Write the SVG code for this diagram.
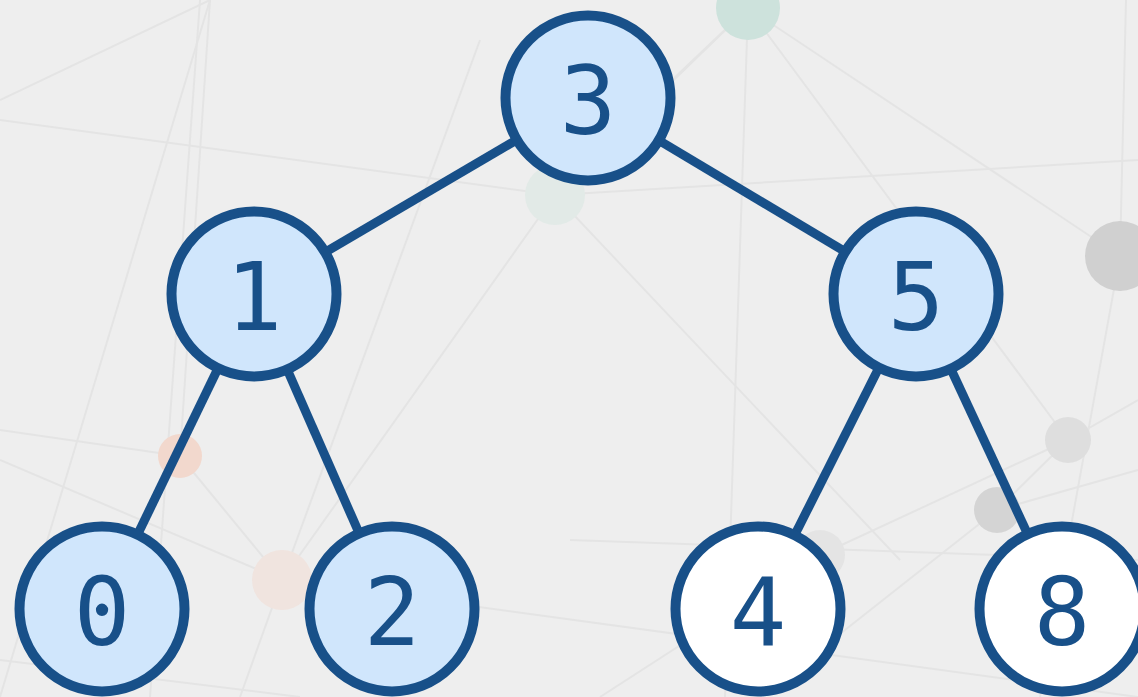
<svg xmlns="http://www.w3.org/2000/svg" width="1138" height="697" viewBox="0 0 1138 697">
<style>
.bg{stroke:#e4e4e4;stroke-width:2;fill:none}
.edge{stroke:#185089;stroke-width:9;stroke-linecap:butt}
.node circle{stroke:#185089;stroke-width:10}
.in circle{fill:#d0e6fc}
.out circle{fill:#ffffff}
.node text{font-family:"DejaVu Sans Mono","Liberation Mono",monospace;font-size:94px;fill:#185089;text-anchor:middle}
</style>
<rect width="1138" height="697" fill="#eeeeee"/>
<g id="background">
<g class="bg">
<line x1="748" y1="8" x2="1120" y2="256"/>
<line x1="748" y1="8" x2="555" y2="195"/>
<line x1="748" y1="8" x2="1068" y2="440"/>
<line x1="748" y1="8" x2="725" y2="697"/>
<line x1="748" y1="8" x2="630" y2="120"/>
<line x1="1120" y1="256" x2="1126" y2="0"/>
<line x1="1120" y1="256" x2="1040" y2="697"/>
<line x1="555" y1="195" x2="1138" y2="160"/>
<line x1="555" y1="195" x2="900" y2="560"/>
<line x1="555" y1="195" x2="282" y2="580"/>
<line x1="555" y1="195" x2="0" y2="120"/>
<line x1="210" y1="0" x2="0" y2="100"/>
<line x1="210" y1="0" x2="0" y2="697"/>
<line x1="210" y1="0" x2="180" y2="456"/>
<line x1="200" y1="0" x2="150" y2="697"/>
<line x1="180" y1="456" x2="0" y2="430"/>
<line x1="180" y1="456" x2="282" y2="580"/>
<line x1="0" y1="460" x2="282" y2="580"/>
<line x1="282" y1="580" x2="240" y2="697"/>
<line x1="282" y1="580" x2="480" y2="40"/>
<line x1="282" y1="580" x2="1138" y2="697"/>
<line x1="997" y1="510" x2="1068" y2="440"/>
<line x1="997" y1="510" x2="760" y2="697"/>
<line x1="997" y1="510" x2="1138" y2="470"/>
<line x1="1068" y1="440" x2="1138" y2="400"/>
<line x1="820" y1="555" x2="600" y2="697"/>
<line x1="820" y1="555" x2="1068" y2="440"/>
<line x1="570" y1="540" x2="1138" y2="560"/>
<line x1="0" y1="660" x2="300" y2="697"/>
</g>
<circle cx="748" cy="8" r="32" fill="#cde2dc"/>
<circle cx="555" cy="195" r="30" fill="#e2eae7"/>
<circle cx="180" cy="456" r="22" fill="#f2d8cd"/>
<circle cx="282" cy="580" r="30" fill="#f0e4df"/>
<circle cx="1120" cy="256" r="35" fill="#d0d0d0"/>
<circle cx="1068" cy="440" r="23" fill="#dedede"/>
<circle cx="997" cy="510" r="23" fill="#d4d4d4"/>
<circle cx="820" cy="555" r="25" fill="#e4e4e4"/>
</g>
<g id="connectors">
<line class="edge" x1="588" y1="98" x2="254" y2="294"/>
<line class="edge" x1="588" y1="98" x2="916" y2="294"/>
<line class="edge" x1="254" y1="294" x2="102" y2="608"/>
<line class="edge" x1="254" y1="294" x2="392" y2="608"/>
<line class="edge" x1="916" y1="294" x2="758" y2="608"/>
<line class="edge" x1="916" y1="294" x2="1062" y2="608"/>
</g>
<g id="node-3" class="node in"><circle cx="588" cy="98" r="82.5"/><text x="588" y="134">3</text></g>
<g id="node-1" class="node in"><circle cx="254" cy="294" r="82.5"/><text x="254" y="330">1</text></g>
<g id="node-5" class="node in"><circle cx="916" cy="294" r="82.5"/><text x="916" y="330">5</text></g>
<g id="node-0" class="node in"><circle cx="102" cy="609" r="82.5"/><text x="102" y="645">0</text></g>
<g id="node-2" class="node in"><circle cx="392" cy="609" r="82.5"/><text x="392" y="645">2</text></g>
<g id="node-4" class="node out"><circle cx="758" cy="609" r="82.5"/><text x="758" y="645">4</text></g>
<g id="node-8" class="node out"><circle cx="1062" cy="609" r="82.5"/><text x="1062" y="645">8</text></g>
</svg>
